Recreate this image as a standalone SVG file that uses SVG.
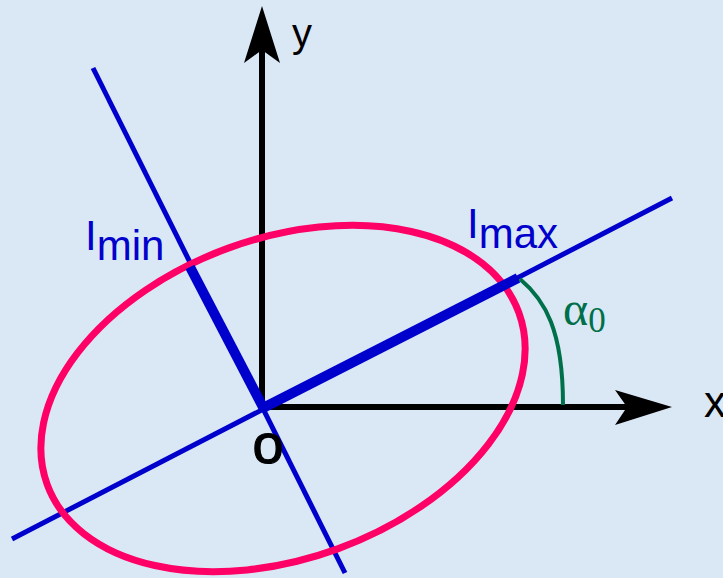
<svg xmlns="http://www.w3.org/2000/svg" width="723" height="578" viewBox="0 0 723 578">
<style>
.axis{fill:none;stroke:#000;stroke-width:6;stroke-linejoin:miter}
.head{fill:#000;stroke:none}
.thin{fill:none;stroke:#0000CC;stroke-width:5;stroke-linecap:butt}
.thick{fill:none;stroke:#0000CC;stroke-width:10;stroke-linecap:butt}
.ell{fill:none;stroke:#FF0066;stroke-width:7}
.arc{fill:none;stroke:#00704A;stroke-width:4}
.lbl{font-family:"Liberation Sans",Arial,sans-serif;fill:#0000CC;font-size:42px}
.ax{font-family:"Liberation Sans",Arial,sans-serif;fill:#000}
.greek{font-family:"Liberation Serif","Times New Roman",serif;fill:#00704A}
</style>
<rect x="0" y="0" width="723" height="578" fill="#DAE8F6"/>
<g id="connectors">
<path class="axis" d="M262,50 V407 H630"/>
<polygon class="head" points="262,6 280,63 262,50 244,63"/>
<polygon class="head" points="672,407 615,390 627,407 615,425"/>
<path class="thin" d="M12,539 L672,198"/>
<path class="thin" d="M93,68 L345,573"/>
</g>
<g id="ellipse">
<ellipse class="ell" cx="283" cy="398.5" rx="251" ry="160" transform="rotate(-20 283 398.5)"/>
</g>
<g id="principal-axes">
<path class="thick" d="M263,408 L518,278"/>
<path class="thick" d="M190,267 L264,409"/>
</g>
<g id="angle">
<path class="arc" d="M520,279 C545,300 563,330 563,405"/>
<text class="greek" x="563" y="325" font-size="48">α<tspan font-size="35" dy="7">0</tspan></text>
</g>
<g id="labels">
<text class="lbl" x="85" y="250">I<tspan dy="10">min</tspan></text>
<text class="lbl" x="467" y="238">I<tspan dy="10">max</tspan></text>
<text class="ax" x="292" y="47" font-size="40">y</text>
<text class="ax" x="704" y="417" font-size="44">x</text>
<text class="ax" x="268" y="463" font-size="56" text-anchor="middle" stroke="#000" stroke-width="1.2">o</text>
</g>
</svg>
